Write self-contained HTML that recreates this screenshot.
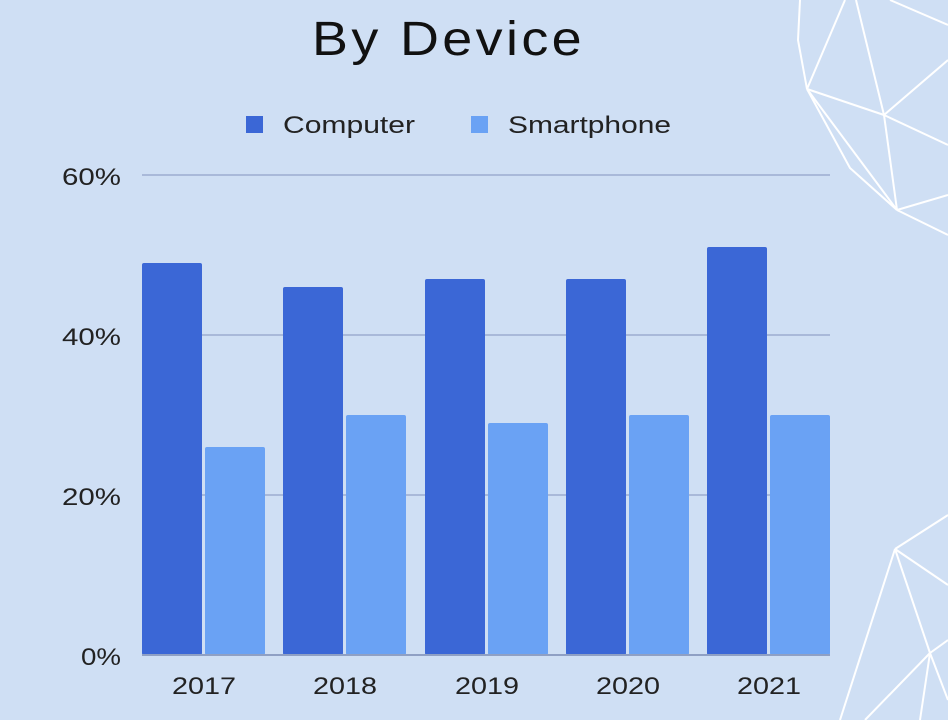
<!DOCTYPE html>
<html><head><style>
body{margin:0;width:948px;height:720px;overflow:hidden;background:#cfdff4;font-family:"Liberation Sans",sans-serif;}
</style></head><body>
<svg width="948" height="720" xmlns="http://www.w3.org/2000/svg" style="position:absolute;left:0;top:0">
<g stroke="#ffffff" stroke-width="2" fill="none">
<polyline points="800,0 798,40 807,89"/>
<line x1="807" y1="89" x2="845" y2="0"/>
<line x1="807" y1="89" x2="884" y2="115"/>
<line x1="856" y1="0" x2="884" y2="115"/>
<line x1="884" y1="115" x2="948" y2="60"/>
<line x1="884" y1="115" x2="948" y2="145"/>
<polyline points="807,89 850,168 897,210"/>
<line x1="807" y1="89" x2="897" y2="210"/>
<line x1="884" y1="115" x2="897" y2="210"/>
<line x1="897" y1="210" x2="948" y2="195"/>
<line x1="897" y1="210" x2="948" y2="235"/>
<line x1="890" y1="0" x2="948" y2="25"/>
<line x1="895" y1="549" x2="948" y2="515"/>
<line x1="895" y1="549" x2="948" y2="585"/>
<line x1="895" y1="549" x2="840" y2="720"/>
<line x1="895" y1="549" x2="930" y2="653"/>
<line x1="930" y1="653" x2="948" y2="640"/>
<line x1="930" y1="653" x2="865" y2="720"/>
<line x1="930" y1="653" x2="920" y2="720"/>
<line x1="930" y1="653" x2="948" y2="700"/>
</g>
<text x="312" y="55" textLength="273" lengthAdjust="spacingAndGlyphs" letter-spacing="3" font-size="48" fill="#111">By Device</text>
<rect x="246" y="116" width="17" height="17" fill="#3b67d6"/>
<text x="283" y="133" textLength="132" lengthAdjust="spacingAndGlyphs" font-size="24" fill="#222">Computer</text>
<rect x="471" y="116" width="17" height="17" fill="#6aa2f4"/>
<text x="508" y="133" textLength="163" lengthAdjust="spacingAndGlyphs" font-size="24" fill="#222">Smartphone</text>
<g stroke="#a9b9d9" stroke-width="2">
<line x1="142" y1="175" x2="830" y2="175"/>
<line x1="142" y1="335" x2="830" y2="335"/>
<line x1="142" y1="495" x2="830" y2="495"/>
</g>
<g font-size="24" fill="#222">
<text x="62" y="185" textLength="59" lengthAdjust="spacingAndGlyphs">60%</text>
<text x="62" y="345" textLength="59" lengthAdjust="spacingAndGlyphs">40%</text>
<text x="62" y="505" textLength="59" lengthAdjust="spacingAndGlyphs">20%</text>
<text x="81" y="665" textLength="40" lengthAdjust="spacingAndGlyphs">0%</text>
</g>
<g fill="#3b67d6">
<rect x="142" y="263" width="60" height="392" rx="2"/>
<rect x="283" y="287" width="60" height="368" rx="2"/>
<rect x="425" y="279" width="60" height="376" rx="2"/>
<rect x="566" y="279" width="60" height="376" rx="2"/>
<rect x="707" y="247" width="60" height="408" rx="2"/>
</g>
<g fill="#6aa2f4">
<rect x="205" y="447" width="60" height="208" rx="2"/>
<rect x="346" y="415" width="60" height="240" rx="2"/>
<rect x="488" y="423" width="60" height="232" rx="2"/>
<rect x="629" y="415" width="60" height="240" rx="2"/>
<rect x="770" y="415" width="60" height="240" rx="2"/>
</g>
<line x1="142" y1="655" x2="830" y2="655" stroke="#8fa0c4" stroke-width="2"/>
<g font-size="24" fill="#222">
<text x="172" y="694" textLength="64" lengthAdjust="spacingAndGlyphs">2017</text>
<text x="313" y="694" textLength="64" lengthAdjust="spacingAndGlyphs">2018</text>
<text x="455" y="694" textLength="64" lengthAdjust="spacingAndGlyphs">2019</text>
<text x="596" y="694" textLength="64" lengthAdjust="spacingAndGlyphs">2020</text>
<text x="737" y="694" textLength="64" lengthAdjust="spacingAndGlyphs">2021</text>
</g>
</svg>
</body></html>
